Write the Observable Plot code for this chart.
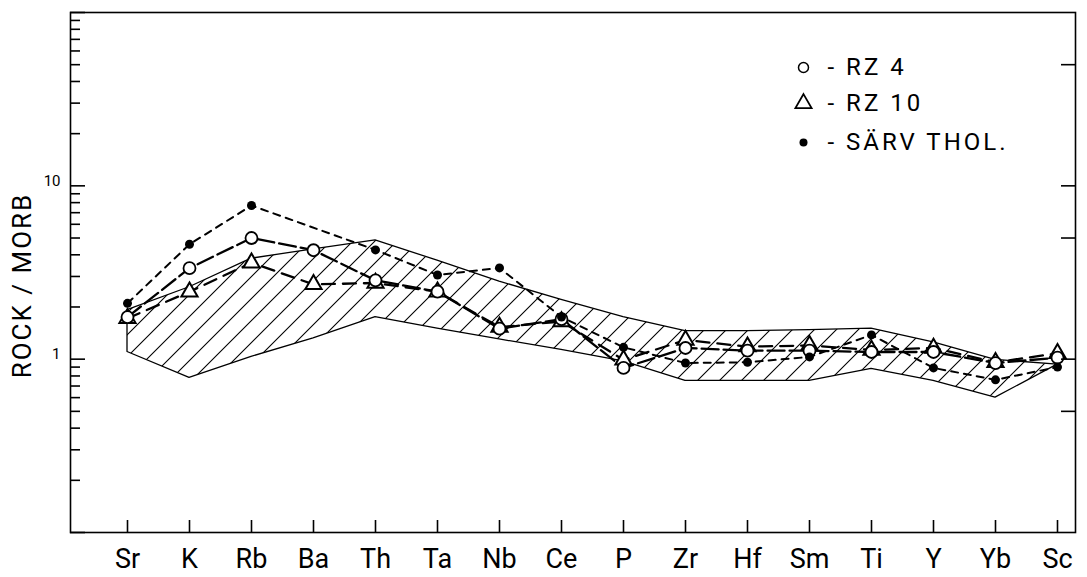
<!DOCTYPE html>
<html><head><meta charset="utf-8">
<script src="https://cdn.jsdelivr.net/npm/d3@7"></script>
<script src="https://cdn.jsdelivr.net/npm/@observablehq/plot@0.6"></script>
<style>body{margin:0;background:#fff} svg{display:block}</style>
</head><body><div id="chart"></div>
<script>
// ---- data ----
const elements = ["Sr","K","Rb","Ba","Th","Ta","Nb","Ce","P","Zr","Hf","Sm","Ti","Y","Yb","Sc"];
const rz4  = [1.75, 3.35, 5.0, 4.25, 2.85, 2.45, 1.5, 1.7, 0.89, 1.16, 1.12, 1.12, 1.1, 1.1, 0.95, 1.02];
const rz10 = [1.72, 2.45, 3.6, 2.7, 2.75, 2.45, 1.53, 1.65, 0.99, 1.29, 1.18, 1.2, 1.13, 1.16, 0.96, 1.08];
const sarv = [2.1, 4.6, 7.7, null, 4.27, 3.06, 3.36, 1.75, 1.17, 0.95, 0.96, 1.03, 1.38, 0.89, 0.76, 0.9];
const bandUpper = [1.92, 2.6, 3.8, 4.3, 4.85, 3.7, 2.8, 2.2, 1.75, 1.45, 1.45, 1.47, 1.5, 1.25, 0.99, 0.93]; // Sr..Sc
const bandLower = [1.1, 0.78, 1.03, 1.32, 1.75, 1.5, 1.3, 1.13, 0.97, 0.75, 0.75, 0.75, 0.88, 0.75, 0.6];   // Sr..Yb
const yLabelTicks = [1, 10];
const yDecades = [0.1, 1, 10, 100];
const yRightTicks = [0.5, 1, 5, 10, 50];
const seriesNames = ["RZ 4", "RZ 10", "SÄRV THOL."];
const yTitle = "ROCK / MORB";

// ---- tables ----
const rows = vals => elements.map((e, i) => ({el: e, v: vals[i]})).filter(d => d.v != null);
const band = bandUpper.map((u, i) => {
  const j = Math.min(i, bandLower.length - 1);
  return {x1: elements[i], y1: u, x2: elements[j], y2: bandLower[j]};
});
const yMinor = d3.range(-1, 2).flatMap(p => d3.range(2, 10).map(k => +(k * 10 ** p).toPrecision(3)));

const FONT = "Roboto, 'DejaVu Sans', sans-serif";
const blank = () => "";
const legendText = (i, dy) => Plot.text([seriesNames[i]], {
  frameAnchor: "top-left", dx: 757, dy, text: d => "- " + d, textAnchor: "start", lineAnchor: "middle", fontSize: 24
});

const chart = Plot.plot({
  width: 1087, height: 577,
  marginLeft: 70, marginRight: 12, marginTop: 12, marginBottom: 45,
  style: {fontFamily: FONT, background: "white", color: "black"},
  x: {type: "point", domain: elements, range: [127, 1057], padding: 0, label: null},
  y: {type: "log", domain: [0.1, 100], label: null},
  marks: [
    Plot.area(band, {x1: "x1", y1: "y1", x2: "x2", y2: "y2", fill: "url(#hatch)", stroke: "black", strokeWidth: 1.3}),
    Plot.line(rows(sarv), {x: "el", y: "v", stroke: "black", strokeWidth: 2, strokeDasharray: "7,6"}),
    Plot.line(rows(rz10), {x: "el", y: "v", stroke: "black", strokeWidth: 2.3, strokeDasharray: "13,8"}),
    Plot.line(rows(rz4), {x: "el", y: "v", stroke: "black", strokeWidth: 2.3, strokeDasharray: "17,5"}),
    Plot.dot(rows(rz10), {x: "el", y: "v", symbol: "triangle", r: 6, stroke: "black", strokeWidth: 2, fill: "white"}),
    Plot.dot(rows(rz4), {x: "el", y: "v", symbol: "circle", r: 6, stroke: "black", strokeWidth: 1.8, fill: "white"}),
    Plot.dot(rows(sarv), {x: "el", y: "v", r: 4.5, fill: "black", stroke: "none"}),
    Plot.frame({stroke: "black", strokeWidth: 1.6}),
    // left inward ticks
    Plot.axisY({ticks: yDecades, tickSize: -15, tickFormat: blank, strokeWidth: 1.6}),
    Plot.axisY({ticks: yMinor, tickSize: -10, tickFormat: blank, strokeWidth: 1.6}),
    Plot.axisY({ticks: yLabelTicks, tickSize: 0, tickPadding: 10, dy: -5, fontSize: 15, tickFormat: d3.format("d")}),
    // right inward ticks
    Plot.axisY({anchor: "right", ticks: yRightTicks, tickSize: -15, tickFormat: blank, strokeWidth: 1.6}),
    // bottom inward ticks and labels
    Plot.axisX({tickSize: -12, tickFormat: blank, strokeWidth: 1.6}),
    Plot.axisX({tickSize: 0, tickPadding: 16, fontSize: 27}),
    // y title
    Plot.text([yTitle], {frameAnchor: "left", dx: -48, dy: 13, rotate: -90, textAnchor: "middle", fontSize: 26}),
    // legend
    Plot.dot([0], {frameAnchor: "top-left", dx: 733, dy: 55, symbol: "circle", r: 5, stroke: "black", strokeWidth: 1.5, fill: "none"}),
    Plot.dot([0], {frameAnchor: "top-left", dx: 733, dy: 91, symbol: "triangle", r: 6, stroke: "black", strokeWidth: 1.8, fill: "none"}),
    Plot.dot([0], {frameAnchor: "top-left", dx: 733, dy: 130, r: 4, fill: "black"}),
    legendText(0, 55), legendText(1, 91), legendText(2, 130)
  ]
});
chart.insertAdjacentHTML("afterbegin",
  `<defs><pattern id="hatch" patternUnits="userSpaceOnUse" width="22" height="22">
     <path d="M-3,3 L3,-3 M0,22 L22,0 M19,25 L25,19" stroke="black" stroke-width="1.1"/>
   </pattern></defs>`);
chart.querySelectorAll("text").forEach(t => {
  if (t.textContent === yTitle) t.setAttribute("letter-spacing", "2");
  if (seriesNames.some(s => t.textContent === "- " + s)) t.setAttribute("letter-spacing", "3");
});
document.getElementById("chart").appendChild(chart);
</script>
</body></html>
